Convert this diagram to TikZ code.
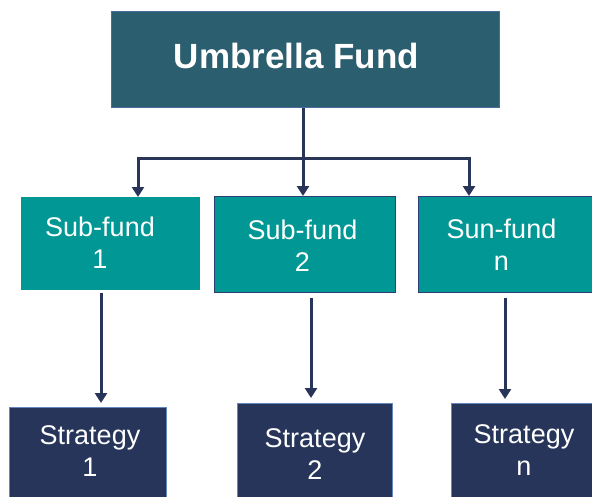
\documentclass[tikz,border=0pt]{standalone}
\usepackage{fontspec}
\setmainfont{Liberation Sans}
\usetikzlibrary{arrows.meta}

\definecolor{umbrellafill}{HTML}{2B5E6E}
\definecolor{umbrellaedge}{HTML}{4C6E9C}
\definecolor{subfill}{HTML}{009794}
\definecolor{subedge}{HTML}{2C3E74}
\definecolor{stratfill}{HTML}{263559}
\definecolor{stratedge}{HTML}{6488BC}
\definecolor{linkcol}{HTML}{283559}

\tikzset{
  box/.style={rectangle, inner sep=0pt, line width=0.8pt},
  umbrellabox/.style={box, fill=umbrellafill, draw=umbrellaedge},
  subbox/.style={box, fill=subfill, draw=#1},
  subbox/.default=subfill,
  stratbox/.style={box, fill=stratfill, draw=stratedge},
  boxtext/.style={text=white, inner sep=0pt, align=center,
    font=\fontsize{27}{32}\selectfont},
  titletext/.style={text=white, inner sep=0pt,
    font=\fontsize{35}{40}\selectfont\bfseries},
  link/.style={draw=linkcol, line width=3pt},
  arrowlink/.style={link, -{Triangle[width=12pt,length=10pt]}},
}

\begin{document}
\begin{tikzpicture}[x=1pt,y=-1pt]
  \useasboundingbox (0,0) rectangle (592,496);
  \clip (0,0) rectangle (592,496);

  % boxes, placed by their top left corners
  \node[umbrellabox, minimum width=388pt, minimum height=96pt,
        anchor=north west] (umb) at (111,11) {};
  \node[subbox, minimum width=178pt, minimum height=92pt,
        anchor=north west] (sf1) at (21,197) {};
  \node[subbox=subedge, minimum width=181pt, minimum height=96pt,
        anchor=north west] (sf2) at (214,196) {};
  \node[subbox=subedge, minimum width=190pt, minimum height=96pt,
        anchor=north west] (sf3) at (418,196) {};
  \node[stratbox, minimum width=157pt, minimum height=110pt,
        anchor=north west] (st1) at (9,407) {};
  \node[stratbox, minimum width=155pt, minimum height=110pt,
        anchor=north west] (st2) at (237,403) {};
  \node[stratbox, minimum width=160pt, minimum height=110pt,
        anchor=north west] (st3) at (451,403) {};

  % labels (base = baseline of the last line)
  \node[titletext, anchor=base] (umbt) at (296.5,68) {Umbrella Fund};
  \node[boxtext, anchor=base] (sf1t) at (100,268) {Sub-fund\\1};
  \node[boxtext, anchor=base] (sf2t) at (302.5,271) {Sub-fund\\2};
  \node[boxtext, anchor=base] (sf3t) at (501.5,270) {Sun-fund\\n};
  \node[boxtext, anchor=base] (st1t) at (90,476) {Strategy\\1};
  \node[boxtext, anchor=base] (st2t) at (315,479) {Strategy\\2};
  \node[boxtext, anchor=base] (st3t) at (524,475) {Strategy\\n};

  % branching connector from the umbrella fund
  \coordinate (split) at (303,158);
  \draw[link] (umb.south -| split) -- (split);
  \draw[arrowlink] (split) -| (sf1.north -| 138,0);
  \draw[arrowlink] (split) -- (sf2.north -| split);
  \draw[arrowlink] (split) -| (sf3.north -| 469,0);

  % sub-fund to strategy connectors
  \draw[arrowlink, shorten <=3pt, shorten >=4pt] (sf1.south -| 101,0) -- (st1.north -| 101,0);
  \draw[arrowlink, shorten <=5pt, shorten >=5pt] (sf2.south -| 311,0) -- (st2.north -| 311,0);
  \draw[arrowlink, shorten <=5pt, shorten >=4pt] (sf3.south -| 505,0) -- (st3.north -| 505,0);
\end{tikzpicture}
\end{document}
